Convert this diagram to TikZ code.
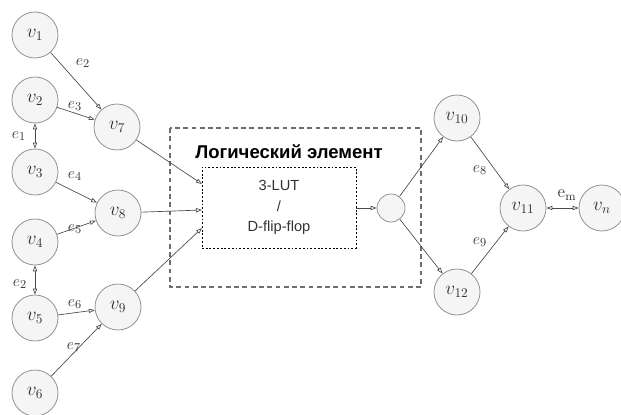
\documentclass[tikz,border=0pt]{standalone}
\usepackage{fontspec}
\setsansfont{Liberation Sans}
\usetikzlibrary{arrows.meta}
\definecolor{vfill}{HTML}{F5F5F5}
\definecolor{vdraw}{HTML}{939393}
\definecolor{edgec}{HTML}{4A4A4A}
\definecolor{txt}{HTML}{333333}
\definecolor{boxc}{HTML}{6E6E6E}
\tikzset{
  vert/.style={circle, fill=vfill, draw=vdraw, line width=0.6pt, minimum size=34.5pt, inner sep=0pt, text=txt, font=\fontsize{14}{14}\selectfont},
  smallv/.style={circle, fill=vfill, draw=vdraw, line width=0.6pt, minimum size=21pt, inner sep=0pt},
  edge/.style={draw=edgec, line width=0.5pt, -{Triangle[open, length=4.5pt, width=3.2pt]}},
  biedge/.style={draw=edgec, line width=0.5pt, {Triangle[open, length=4.5pt, width=3.2pt]}-{Triangle[open, length=4.5pt, width=3.2pt]}},
  elabel/.style={text=txt, inner sep=0pt, font=\fontsize{13}{13}\selectfont},
  outerbox/.style={draw=boxc, line width=1.1pt, dash pattern=on 3.6pt off 2.6pt},
  innerbox/.style={draw=black, line width=0.55pt, dash pattern=on 1.4pt off 1.4pt, minimum width=115.5pt, minimum height=60.75pt, inner sep=0pt},
}
\begin{document}
\begin{tikzpicture}[x=0.75pt, y=-0.75pt]
\useasboundingbox (0,0) rectangle (621,414);
% outer dashed box
\draw[outerbox] (170,128) rectangle (421,287);
\node[font=\sffamily\bfseries\fontsize{13.9}{15}\selectfont, text=black] (title) at (289,152) {Логический элемент};
\node[innerbox, align=center, text=txt, font=\sffamily\fontsize{11}{15.5}\selectfont] (lut) at (279,207.5) {3-LUT\\/\\D-flip-flop};
\coordinate (in1) at (202,184);
\coordinate (in2) at (202,210);
\coordinate (in3) at (202,228);
\coordinate (out) at (356,208);

% vertices
\node[vert] (v1) at (35,35) {$v_{1}$};
\node[vert] (v2) at (35,100) {$v_{2}$};
\node[vert] (v3) at (35,172) {$v_{3}$};
\node[vert] (v4) at (35,242) {$v_{4}$};
\node[vert] (v5) at (35,318) {$v_{5}$};
\node[vert] (v6) at (35,393) {$v_{6}$};
\node[vert] (v7) at (117,127) {$v_{7}$};
\node[vert] (v8) at (118,213) {$v_{8}$};
\node[vert] (v9) at (118,307) {$v_{9}$};
\node[smallv] (sc) at (391,208) {};
\node[vert] (v10) at (457,118) {$v_{10}$};
\node[vert] (v12) at (457,292) {$v_{12}$};
\node[vert] (v11) at (523,208) {$v_{11}$};
\node[vert] (vn) at (602,208) {$v_{n}$};

% edges
\draw[edge] (v1) -- (v7);
\draw[edge] (v2) -- (v7);
\draw[biedge] (v2) -- (v3);
\draw[edge] (v3) -- (v8);
\draw[edge] (v4) -- (v8);
\draw[biedge] (v4) -- (v5);
\draw[edge] (v5) -- (v9);
\draw[edge] (v6) -- (v9);
\draw[edge] (v7) -- (in1);
\draw[edge] (v8) -- (in2);
\draw[edge] (v9) -- (in3);
\draw[edge] (out) -- (sc);
\draw[edge] (sc) -- (v10);
\draw[edge] (sc) -- (v12);
\draw[edge] (v10) -- (v11);
\draw[edge] (v12) -- (v11);
\draw[biedge] (v11) -- (vn);

% edge labels
\node[elabel] (l1) at (83,63) {$e_{2}$};
\node[elabel] (l2) at (75,106) {$e_{3}$};
\node[elabel] (l3) at (19,136) {$e_{1}$};
\node[elabel] (l4) at (75,176) {$e_{4}$};
\node[elabel] (l5) at (75,229) {$e_{5}$};
\node[elabel] (l6) at (20,284) {$e_{2}$};
\node[elabel] (l7) at (75,304) {$e_{6}$};
\node[elabel] (l8) at (74,347) {$e_{7}$};
\node[elabel] (l9) at (480,170) {$e_{8}$};
\node[elabel] (l10) at (480,242) {$e_{9}$};
\node[elabel] (l11) at (567,195) {$\mathrm{e}_{\mathrm{m}}$};
\end{tikzpicture}
\end{document}
